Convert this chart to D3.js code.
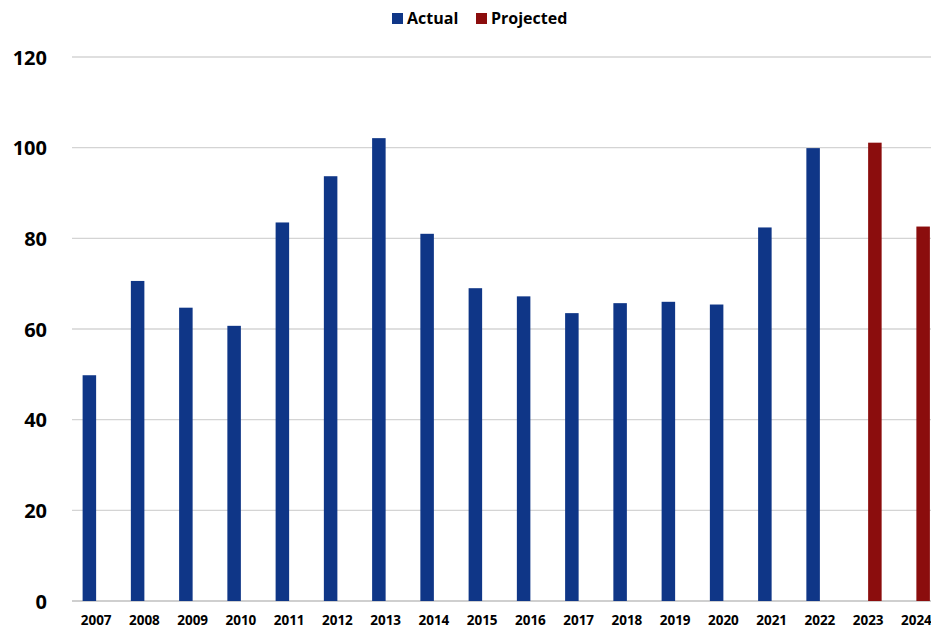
<!DOCTYPE html>
<html>
<head>
<meta charset="utf-8">
<script src="https://cdn.jsdelivr.net/npm/d3@7"></script>
<style>
    body { margin: 0; background: #fff; }
    text { font-family: "Open Sans", "Liberation Sans", sans-serif; font-weight: bold; fill: #000; }
</style>
</head>
<body>
<div id="chart"></div>
<script>
// Data
let years = ["2007", "2008", "2009", "2010", "2011", "2012", "2013", "2014", "2015",
    "2016", "2017", "2018", "2019", "2020", "2021", "2022", "2023", "2024"];
let actual = [49.8, 70.6, 64.7, 60.7, 83.5, 93.7, 102.1, 81.0, 69.0,
    67.2, 63.5, 65.7, 66.0, 65.4, 82.4, 99.9, null, null];
let projected = [null, null, null, null, null, null, null, null, null,
    null, null, null, null, null, null, null, 101.1, 82.6];
let seriesNames = ["Actual", "Projected"];
let seriesColors = ["#0f3687", "#8b0d0d"];
let yTicks = [0, 20, 40, 60, 80, 100, 120];

let width = 931;
let height = 633;
// plot area (right side is cut off in the original)
let plotLeft = 72;
let plotRight = 940.5;
let plotTop = 57;
let plotBottom = 601;

let svg = d3.select("#chart")
    .append("svg")
    .attr("width", width)
    .attr("height", height);

let xScale = d3.scaleBand()
    .domain(years)
    .range([plotLeft, plotRight])
    .paddingInner(0.44)
    .paddingOuter(0.22);

let subScale = d3.scaleBand()
    .domain(seriesNames)
    .range([0, xScale.bandwidth()]);

let yScale = d3.scaleLinear()
    .domain([0, 120])
    .range([plotBottom, plotTop]);

// gridlines
svg.append("g")
    .selectAll("line")
    .data(yTicks)
    .enter()
    .append("line")
    .attr("x1", plotLeft)
    .attr("x2", width)
    .attr("y1", function(d) { return yScale(d); })
    .attr("y2", function(d) { return yScale(d); })
    .attr("stroke", function(d) { return d === 0 ? "#bfbfbf" : "#d4d4d4"; })
    .attr("stroke-width", 1.3);

// y axis labels
let yAxis = d3.axisLeft(yScale).tickValues(yTicks).tickSize(0).tickPadding(0);
let yG = svg.append("g")
    .attr("transform", "translate(47,0)")
    .call(yAxis);
yG.select(".domain").remove();
yG.selectAll("text")
    .attr("font-size", 20)
    .attr("dy", "0.35em")
    .style("font-family", "'Open Sans', sans-serif");

// x axis labels
let xAxis = d3.axisBottom(xScale).tickSize(0).tickPadding(0);
let xG = svg.append("g")
    .attr("transform", "translate(0,616)")
    .call(xAxis);
xG.select(".domain").remove();
xG.selectAll("text")
    .attr("font-size", 13.5)
    .attr("dy", "0.7em")
    .style("font-family", "'Open Sans', sans-serif");

// bars
let rows = years.map(function(y, i) {
    return { year: y, values: [actual[i], projected[i]] };
});

let groups = svg.append("g")
    .selectAll("g")
    .data(rows)
    .enter()
    .append("g")
    .attr("transform", function(d) { return "translate(" + xScale(d.year) + ",0)"; });

groups.selectAll("rect")
    .data(function(d) {
        return seriesNames.map(function(s, j) {
            return { name: s, value: d.values[j], color: seriesColors[j] };
        }).filter(function(e) { return e.value !== null; });
    })
    .enter()
    .append("rect")
    .attr("x", function(d) { return subScale(d.name); })
    .attr("width", subScale.bandwidth())
    .attr("y", function(d) { return yScale(d.value); })
    .attr("height", function(d) { return yScale(0) - yScale(d.value); })
    .attr("fill", function(d) { return d.color; });

// legend
let legendPos = [392, 476];
let legend = svg.append("g")
    .selectAll("g")
    .data(seriesNames)
    .enter()
    .append("g")
    .attr("transform", function(d, i) { return "translate(" + legendPos[i] + ",13)"; });
legend.append("rect")
    .attr("width", 11)
    .attr("height", 11)
    .attr("fill", function(d, i) { return seriesColors[i]; });
legend.append("text")
    .attr("x", 15)
    .attr("y", 5.5)
    .attr("dy", "0.35em")
    .attr("font-size", 16)
    .text(function(d) { return d; });
</script>
</body>
</html>
